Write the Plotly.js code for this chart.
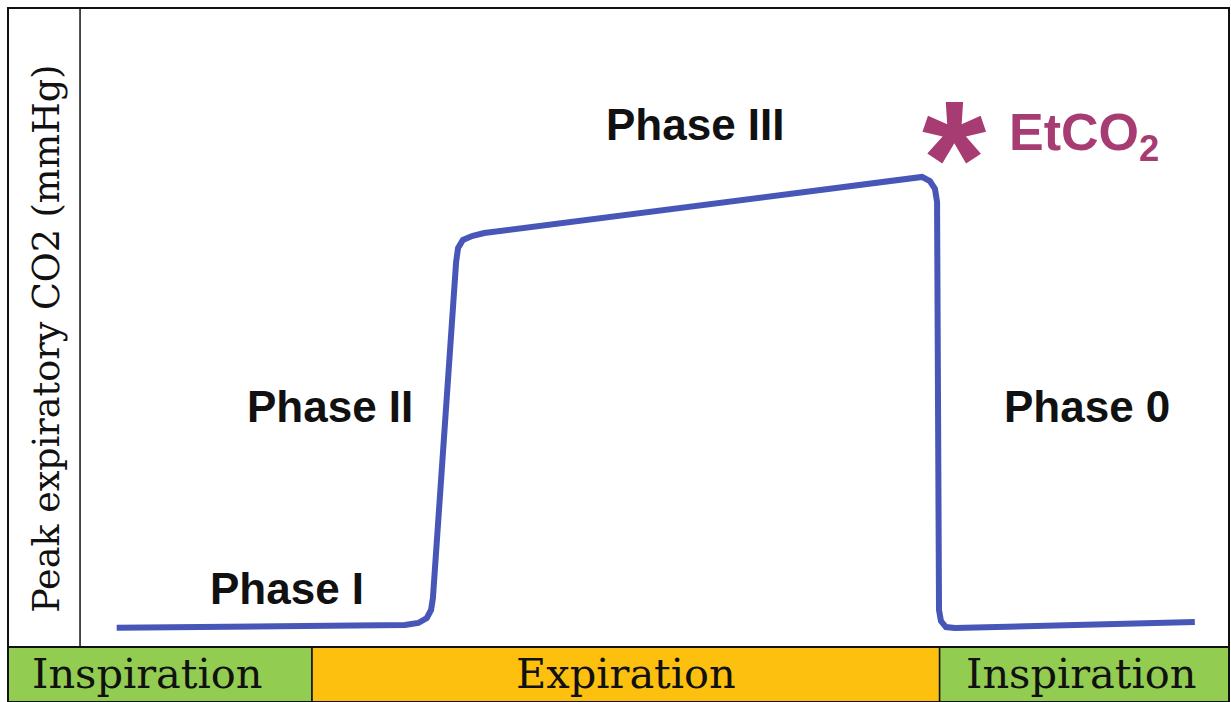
<!DOCTYPE html>
<html>
<head>
<meta charset="utf-8">
<script src="https://cdn.plot.ly/plotly-3.0.1.min.js"></script>
<style>
  html, body { margin: 0; padding: 0; background: #ffffff; }
  #chart { width: 1231px; height: 702px; }
</style>
</head>
<body>
<div id="chart"></div>
<script>
// ---- data ----
const time = [8.9, 32.5, 33.6, 34.3, 34.65, 34.8, 36.7, 36.86, 37.26, 38.0, 39.0, 74.0, 74.86, 75.5, 75.92, 76.09, 76.25, 76.41, 76.82, 77.56, 97.2];
const co2  = [1.5, 1.72, 1.88, 2.27, 2.9, 3.83, 30.13, 31.22, 31.85, 32.16, 32.39, 36.78, 36.78, 36.46, 35.84, 34.82, 2.9, 2.03, 1.56, 1.49, 1.96];

const phaseLabels = ["Phase I", "Phase II", "Phase III", "Phase 0"];
const bandLabels = ["Inspiration", "Expiration", "Inspiration"];
const bandStart = [0, 24.9, 76.3];
const bandEnd = [24.9, 76.3, 100];
const bandColors = ["#92CC50", "#FEC00F", "#92CC50"];
const yAxisLabel = "Peak expiratory CO2 (mmHg)";
const etco2Label = "EtCO<sub>2</sub>";

// ---- layout helpers ----
const bandBottom = -55 / 639;
const phasePos = [
  {x: 22.85, y: 4.6},
  {x: 26.4, y: 18.8},
  {x: 56.3, y: 40.9},
  {x: 88.4, y: 18.8}
];

const shapes = [];
bandLabels.forEach((lab, i) => {
  shapes.push({
    type: 'rect', xref: 'x', yref: 'paper',
    x0: bandStart[i], x1: bandEnd[i], y0: bandBottom, y1: 0,
    fillcolor: bandColors[i], line: {color: '#111', width: 1.5}, layer: 'below'
  });
});
// y-axis line
shapes.push({type: 'line', xref: 'x', yref: 'paper', x0: 5.9, x1: 5.9, y0: 0, y1: 1,
  line: {color: '#111', width: 1.5}});
// outer frame
shapes.push({type: 'rect', xref: 'paper', yref: 'paper', x0: 0, x1: 1, y0: bandBottom, y1: 1,
  line: {color: '#111', width: 2}});
// band top line
shapes.push({type: 'line', xref: 'paper', yref: 'paper', x0: 0, x1: 1, y0: 0, y1: 0,
  line: {color: '#111', width: 2}});

const phaseFont = {family: 'Liberation Sans, Arial, sans-serif', size: 44, color: '#111', weight: 'bold'};
const annotations = [];
phaseLabels.forEach((lab, i) => {
  annotations.push({x: phasePos[i].x, y: phasePos[i].y, xref: 'x', yref: 'y', text: lab,
    showarrow: false, font: phaseFont, xanchor: 'center', yanchor: 'middle'});
});
const bandTextX = [11.4, 50.65, 87.9];
bandLabels.forEach((lab, i) => {
  annotations.push({x: bandTextX[i], y: -0.042, xref: 'x', yref: 'paper', text: lab,
    showarrow: false, font: {family: 'DejaVu Serif, serif', size: 41.5, color: '#111'},
    xanchor: 'center', yanchor: 'middle'});
});
annotations.push({x: 0.031, y: 0.482, xref: 'paper', yref: 'paper', text: yAxisLabel,
  textangle: -90, showarrow: false, font: {family: 'DejaVu Serif, serif', size: 36.5, color: '#111'},
  xanchor: 'center', yanchor: 'middle'});
annotations.push({x: 77.5, y: 38.2, xref: 'x', yref: 'y', text: '*',
  showarrow: false, font: {family: 'Liberation Sans, Arial, sans-serif', size: 165, color: '#A63C72', weight: 'bold'},
  xanchor: 'center', yanchor: 'middle'});
annotations.push({x: 81.8, y: 40.0, xref: 'x', yref: 'y', text: etco2Label,
  showarrow: false, font: {family: 'Liberation Sans, Arial, sans-serif', size: 52, color: '#A63C72', weight: 'bold'},
  xanchor: 'left', yanchor: 'middle'});

const trace = {
  x: time, y: co2, type: 'scatter', mode: 'lines',
  line: {color: '#4856B8', width: 6, shape: 'linear'},
  hoverinfo: 'skip'
};

const layout = {
  width: 1231, height: 702,
  margin: {l: 8, r: 2, t: 8, b: 55},
  paper_bgcolor: '#ffffff', plot_bgcolor: '#ffffff',
  showlegend: false,
  xaxis: {range: [0, 100], showgrid: false, zeroline: false, showticklabels: false, ticks: '', showline: false, fixedrange: true},
  yaxis: {range: [0, 50], showgrid: false, zeroline: false, showticklabels: false, ticks: '', showline: false, fixedrange: true},
  shapes: shapes,
  annotations: annotations
};

Plotly.newPlot('chart', [trace], layout, {displayModeBar: false, staticPlot: true});
</script>
</body>
</html>
